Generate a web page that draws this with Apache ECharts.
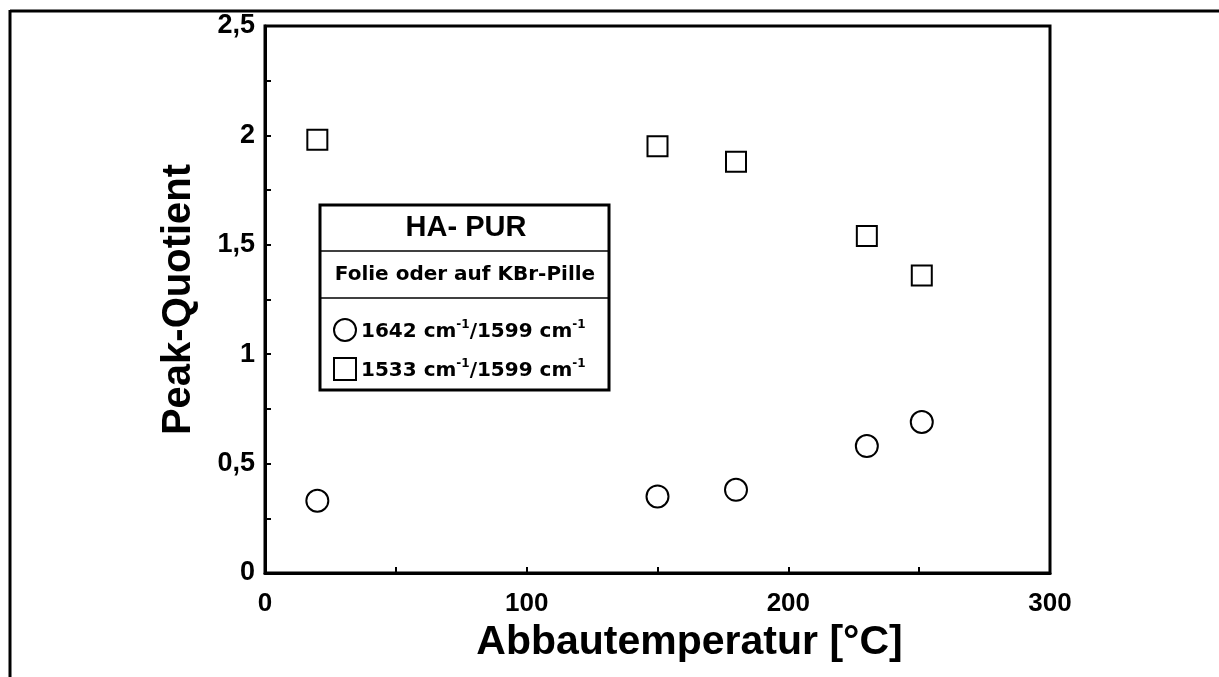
<!DOCTYPE html>
<html>
<head>
<meta charset="utf-8">
<script src="https://cdn.jsdelivr.net/npm/echarts@6/dist/echarts.min.js"></script>
<style>html,body{margin:0;padding:0;background:#fff}#c{width:1219px;height:677px}</style>
</head>
<body>
<div id="c"></div>
<script>
var temps = [20, 150, 180, 230, 251];
var ratio1642 = [0.33, 0.35, 0.38, 0.58, 0.69];
var ratio1533 = [1.98, 1.95, 1.88, 1.54, 1.36];
var seriesNames = ['1642/1599', '1533/1599'];
var legendTitle = 'HA- PUR';
var legendSub = 'Folie oder auf KBr-Pille';

function pairs(xs, ys) { return xs.map(function (x, i) { return [x, ys[i]]; }); }

var FONT = '"Liberation Sans", Arial, sans-serif';
var WIDE = '"DejaVu Sans", "Liberation Sans", sans-serif';
var chart = echarts.init(document.getElementById('c'), null, { renderer: 'canvas' });

chart.setOption({
  animation: false,
  backgroundColor: '#fff',
  textStyle: { fontFamily: FONT },
  grid: { left: 265, top: 26, right: 169, bottom: 104, show: true, borderColor: '#000', borderWidth: 3, backgroundColor: 'transparent' },
  xAxis: {
    type: 'value', min: 0, max: 300, interval: 50,
    name: 'Abbautemperatur [°C]', nameLocation: 'middle', nameGap: 48,
    nameTextStyle: { fontFamily: FONT, fontWeight: 'bold', fontSize: 41, color: '#000', padding: [0, 0, 0, 64] },
    axisLine: { show: true, lineStyle: { color: '#000', width: 3 } },
    axisTick: { show: true, inside: true, length: 6, lineStyle: { color: '#000', width: 2 } },
    splitLine: { show: false },
    axisLabel: { margin: 18, fontFamily: FONT, fontWeight: 'bold', fontSize: 26, color: '#000',
      formatter: function (v) { return v % 100 === 0 ? String(v) : ''; } }
  },
  yAxis: {
    type: 'value', min: 0, max: 2.5, interval: 0.25,
    name: 'Peak-Quotient', nameLocation: 'middle', nameGap: 66, nameRotate: 90,
    nameTextStyle: { fontFamily: FONT, fontWeight: 'bold', fontSize: 40, color: '#000' },
    axisLine: { show: true, lineStyle: { color: '#000', width: 3 } },
    axisTick: { show: true, inside: true, length: 6, lineStyle: { color: '#000', width: 2 } },
    splitLine: { show: false },
    axisLabel: { margin: 10, fontFamily: FONT, fontWeight: 'bold', fontSize: 27, color: '#000',
      formatter: function (v) {
        var r = Math.round(v * 100) / 100;
        if (Math.abs(r * 2 - Math.round(r * 2)) > 1e-6) return '';
        return String(r).replace('.', ',');
      } }
  },
  legend: {
    show: true, orient: 'vertical', left: 328, top: 313, itemGap: 15,
    itemWidth: 22, itemHeight: 22,
    textStyle: { fontFamily: WIDE, fontWeight: 'bold', fontSize: 20, color: '#000',
      rich: {
        a: { fontFamily: WIDE, fontWeight: 'bold', fontSize: 20, color: '#000', lineHeight: 23, verticalAlign: 'bottom' },
        s: { fontFamily: WIDE, fontWeight: 'bold', fontSize: 12, color: '#000', lineHeight: 23, verticalAlign: 'top', padding: [0, 0, 9, 0] }
      } },
    formatter: function (name) {
      var p = name.split('/');
      return '{a|' + p[0] + ' cm}{s|-1}{a|/' + p[1] + ' cm}{s|-1}';
    },
    data: [
      { name: seriesNames[0], icon: 'circle' },
      { name: seriesNames[1], icon: 'rect' }
    ]
  },
  graphic: [
    { type: 'line', shape: { x1: 10, y1: 11, x2: 1219, y2: 11 }, style: { stroke: '#000', lineWidth: 3 }, z: 100 },
    { type: 'line', shape: { x1: 10, y1: 10, x2: 10, y2: 677 }, style: { stroke: '#000', lineWidth: 3 }, z: 100 },
    { type: 'rect', shape: { x: 320, y: 205, width: 289, height: 185 }, style: { fill: '#fff', stroke: '#000', lineWidth: 3 }, z: 1 },
    { type: 'line', shape: { x1: 320, y1: 251, x2: 609, y2: 251 }, style: { stroke: '#000', lineWidth: 1.5 }, z: 2 },
    { type: 'line', shape: { x1: 320, y1: 298, x2: 609, y2: 298 }, style: { stroke: '#000', lineWidth: 1.5 }, z: 2 },
    { type: 'text', x: 466, y: 228, style: { text: legendTitle, fontFamily: FONT, fontWeight: 'bold', fontSize: 29, fill: '#000', textAlign: 'center', textVerticalAlign: 'middle' }, z: 3 },
    { type: 'text', x: 465, y: 275, style: { text: legendSub, fontFamily: WIDE, fontWeight: 'bold', fontSize: 20, fill: '#000', textAlign: 'center', textVerticalAlign: 'middle' }, z: 3 }
  ],
  series: [
    { name: seriesNames[0], type: 'scatter', symbol: 'circle', symbolSize: 22,
      itemStyle: { color: '#fff', borderColor: '#000', borderWidth: 2, opacity: 1 },
      data: pairs(temps, ratio1642), z: 5 },
    { name: seriesNames[1], type: 'scatter', symbol: 'rect', symbolSize: 20,
      itemStyle: { color: '#fff', borderColor: '#000', borderWidth: 2, opacity: 1 },
      data: pairs(temps, ratio1533), z: 5 }
  ]
});
</script>
</body>
</html>
